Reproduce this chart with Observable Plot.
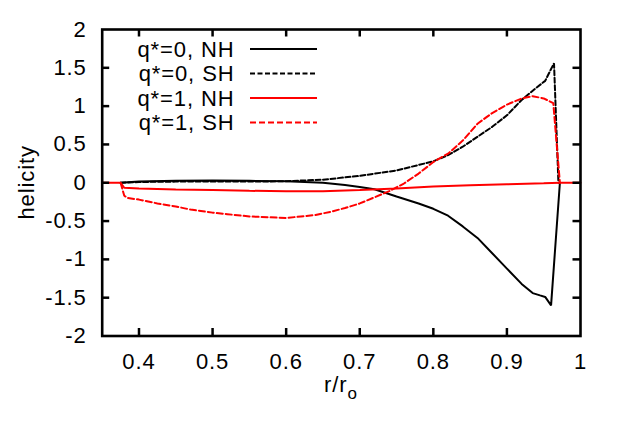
<!DOCTYPE html>
<html>
<head>
<meta charset="utf-8">
<script src="https://cdn.jsdelivr.net/npm/d3@7"></script>
<script src="https://cdn.jsdelivr.net/npm/@observablehq/plot@0.6"></script>
<style>
  html, body { margin: 0; padding: 0; background: white; }
  #chart { width: 623px; height: 435px; }
</style>
</head>
<body>
<div id="chart"></div>
<script>
// ---- data ----
const xTicks = [0.4, 0.5, 0.6, 0.7, 0.8, 0.9, 1];
const yTicks = [-2, -1.5, -1, -0.5, 0, 0.5, 1, 1.5, 2];

const seriesNames = ["q*=0, NH", "q*=0, SH", "q*=1, NH", "q*=1, SH"];
const seriesColors = ["#000000", "#000000", "#ff0000", "#ff0000"];
const seriesDash = [null, "5,2.5", null, "6,3"];

const x0NH = [0.375, 0.40, 0.45, 0.50, 0.55, 0.60, 0.65, 0.68, 0.70, 0.72, 0.75, 0.78, 0.80, 0.82, 0.84, 0.86, 0.88, 0.90, 0.92, 0.935, 0.945, 0.952, 0.96, 0.972];
const y0NH = [0, 0.015, 0.025, 0.03, 0.025, 0.02, 0.0, -0.03, -0.055, -0.085, -0.18, -0.27, -0.34, -0.43, -0.57, -0.72, -0.92, -1.12, -1.32, -1.44, -1.47, -1.49, -1.6, 0];

const x0SH = [0.375, 0.40, 0.45, 0.50, 0.55, 0.60, 0.65, 0.70, 0.75, 0.80, 0.82, 0.84, 0.86, 0.88, 0.90, 0.92, 0.94, 0.952, 0.964, 0.97];
const y0SH = [0, 0.01, 0.015, 0.015, 0.015, 0.02, 0.04, 0.09, 0.16, 0.28, 0.36, 0.47, 0.6, 0.73, 0.88, 1.08, 1.24, 1.33, 1.56, 0];

const x1NH = [0.35, 0.375, 0.38, 0.40, 0.45, 0.50, 0.55, 0.60, 0.65, 0.70, 0.75, 0.80, 0.85, 0.90, 0.95, 0.972, 1.0];
const y1NH = [0, 0, -0.065, -0.075, -0.088, -0.095, -0.105, -0.112, -0.11, -0.095, -0.075, -0.05, -0.033, -0.02, -0.008, 0, 0];

const x1SH = [0.375, 0.38, 0.385, 0.40, 0.425, 0.45, 0.47, 0.50, 0.52, 0.55, 0.60, 0.62, 0.64, 0.66, 0.68, 0.70, 0.72, 0.74, 0.76, 0.78, 0.80, 0.82, 0.84, 0.86, 0.88, 0.90, 0.92, 0.935, 0.95, 0.963, 0.972];
const y1SH = [0, -0.17, -0.2, -0.22, -0.27, -0.31, -0.35, -0.39, -0.41, -0.44, -0.46, -0.44, -0.42, -0.38, -0.33, -0.27, -0.19, -0.11, -0.01, 0.12, 0.27, 0.38, 0.55, 0.77, 0.91, 1.02, 1.10, 1.13, 1.10, 1.04, 0];

const xs = [x0NH, x0SH, x1NH, x1SH];
const ys = [y0NH, y0SH, y1NH, y1SH];

// ---- layout ----
const W = 623, H = 435;
const mL = 101.7, mR = 43, mT = 29, mB = 99.5;
const plotW = W - mL - mR, plotH = H - mT - mB;
const tickLen = 7.5;

const font = "'Liberation Sans', Arial, Helvetica, sans-serif";
const lineMarks = xs.map((xa, i) =>
  Plot.line(xa.map((x, j) => ({x, y: ys[i][j]})), {
    x: "x", y: "y",
    stroke: seriesColors[i],
    strokeWidth: 2,
    strokeDasharray: seriesDash[i],
    strokeLinejoin: "miter"
  })
);

const fmt = d => String(d);
const inner = xTicks.filter(d => d < 1);
const innerY = yTicks.filter(d => d > -2 && d < 2);

const chart = Plot.plot({
  width: W,
  height: H,
  marginLeft: mL,
  marginRight: mR,
  marginTop: mT,
  marginBottom: mB,
  x: {domain: [0.35, 1]},
  y: {domain: [-2, 2]},
  style: `font-family: ${font}; font-size: 22px; letter-spacing: 0.9px; color: black; background: white; overflow: visible;`,
  marks: [
    ...lineMarks,
    // inward ticks on all four sides
    Plot.tickX(inner, {x: d => d, insetTop: plotH - tickLen, stroke: "black", strokeWidth: 2.5}),
    Plot.tickX(inner, {x: d => d, insetBottom: plotH - tickLen, stroke: "black", strokeWidth: 2.5}),
    Plot.tickY(innerY, {y: d => d, insetRight: plotW - tickLen, stroke: "black", strokeWidth: 2.5}),
    Plot.tickY(innerY, {y: d => d, insetLeft: plotW - tickLen, stroke: "black", strokeWidth: 2.5}),
    // tick labels
    Plot.axisX(xTicks, {anchor: "bottom", tickSize: 0, tickPadding: 17.5, tickFormat: fmt, label: null}),
    Plot.axisY(yTicks, {anchor: "left", tickSize: 0, tickPadding: 15.5, tickFormat: fmt, label: null}),
    Plot.frame({stroke: "black", strokeWidth: 2.6})
  ]
});

document.getElementById("chart").appendChild(chart);

// ---- axis titles and legend ----
const svg = d3.select(chart);
const g = svg.append("g").attr("font-family", font).attr("font-size", 22).attr("fill", "black");

g.append("text")
  .attr("transform", "translate(33.5,182.3) rotate(-90)")
  .attr("text-anchor", "middle")
  .text("helicity");

const xl = g.append("text")
  .attr("x", 341)
  .attr("y", 392)
  .attr("text-anchor", "middle");
xl.append("tspan").text("r/r");
xl.append("tspan").attr("font-size", 17).attr("dy", 7).text("o");

const leg = g.append("g");
seriesNames.forEach((name, i) => {
  const yc = 49 + i * 24.5;
  leg.append("text")
    .attr("x", 234.5)
    .attr("y", yc + 7.8)
    .attr("text-anchor", "end")
    .text(name);
  leg.append("line")
    .attr("x1", 250).attr("x2", 317)
    .attr("y1", yc).attr("y2", yc)
    .attr("stroke", seriesColors[i])
    .attr("stroke-width", 2)
    .attr("stroke-dasharray", seriesDash[i]);
});
</script>
</body>
</html>
